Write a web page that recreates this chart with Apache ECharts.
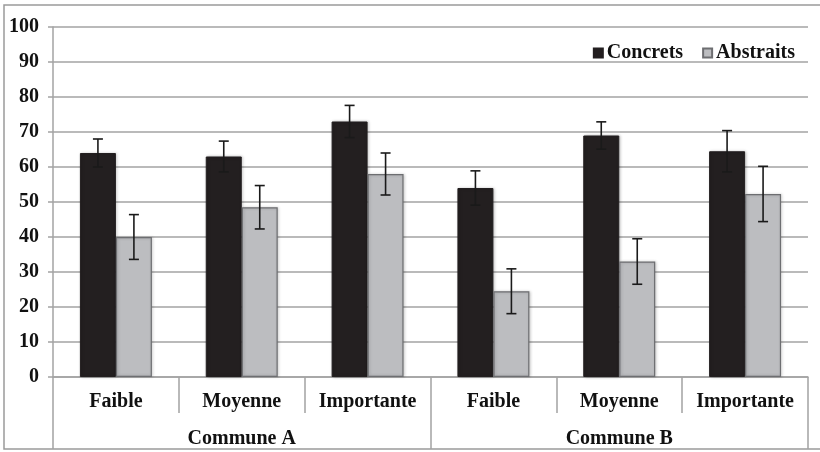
<!DOCTYPE html>
<html>
<head>
<meta charset="utf-8">
<script src="https://cdn.jsdelivr.net/npm/echarts@6/dist/echarts.min.js"></script>
<style>html,body{margin:0;padding:0;background:#fff}#c{width:820px;height:452px}</style>
</head>
<body>
<div id="c"></div>
<script>
var categories = ['Faible', 'Moyenne', 'Importante', 'Faible', 'Moyenne', 'Importante'];
var groups = ['Commune A', 'Commune B'];
var concrets = [64, 63, 73, 54, 69, 64.5];
var concretsErr = [4, 4.4, 4.6, 4.9, 3.9, 5.9];
var abstraits = [40, 48.5, 58, 24.5, 33, 52.3];
var abstraitsErr = [6.4, 6.2, 6, 6.4, 6.5, 7.9];
var yTicks = [0, 10, 20, 30, 40, 50, 60, 70, 80, 90, 100];

var FONT = '"Liberation Serif", "DejaVu Serif", serif';
var GRID = '#a3a3a3';
var BARW = 0.286;
var FS = 20;

function errSeries(vals, errs, side) {
  return {
    type: 'custom',
    xAxisIndex: 0,
    z: 10,
    data: vals.map(function (v, i) { return [i, v, errs[i]]; }),
    renderItem: function (params, api) {
      var i = api.value(0), v = api.value(1), e = api.value(2);
      var bw = api.size([1, 0])[0] * BARW;
      var c = api.coord([i, v]);
      var x = c[0] + side * bw / 2;
      var top = api.coord([i, v + e])[1];
      var bot = api.coord([i, v - e])[1];
      var cap = 5;
      var st = { stroke: '#1a1a1a', lineWidth: 1.6 };
      return {
        type: 'group',
        children: [
          { type: 'line', shape: { x1: x, y1: top, x2: x, y2: bot }, style: st },
          { type: 'line', shape: { x1: x - cap, y1: top, x2: x + cap, y2: top }, style: st },
          { type: 'line', shape: { x1: x - cap, y1: bot, x2: x + cap, y2: bot }, style: st }
        ]
      };
    }
  };
}

var chart = echarts.init(document.getElementById('c'), null, { renderer: 'canvas' });
chart.setOption({
  animation: false,
  backgroundColor: '#fff',
  textStyle: { fontFamily: FONT },
  graphic: [{
    type: 'rect', z: -10,
    shape: { x: 4, y: 5, width: 830, height: 444 },
    style: { fill: 'none', stroke: '#9a9a9a', lineWidth: 1.5 }
  }],
  legend: {
    right: 20, top: 38,
    itemWidth: 9, itemHeight: 9, itemGap: 19,
    textStyle: { fontFamily: FONT, fontWeight: 'bold', fontSize: FS, color: '#111', padding: [0, 0, 0, -1] },
    data: [
      { name: 'Concrets', icon: 'rect' },
      { name: 'Abstraits', icon: 'rect' }
    ]
  },
  grid: { left: 53, right: 12, top: 27, bottom: 75, containLabel: false },
  xAxis: [{
    type: 'category',
    data: categories,
    position: 'bottom',
    axisLine: { show: true, lineStyle: { color: GRID, width: 1.5 } },
    axisTick: { show: true, interval: 0, length: 36, lineStyle: { color: GRID, width: 1.5 } },
    axisLabel: { interval: 0, margin: 15, fontFamily: FONT, fontWeight: 'bold', fontSize: FS, color: '#111' }
  }, {
    type: 'category',
    data: groups,
    position: 'bottom',
    axisLine: { show: false },
    axisTick: { show: true, interval: 0, length: 72, lineStyle: { color: GRID, width: 1.5 } },
    axisLabel: { interval: 0, margin: 52, fontFamily: FONT, fontWeight: 'bold', fontSize: FS, color: '#111' }
  }],
  yAxis: {
    type: 'value',
    min: 0, max: 100, interval: 10,
    axisLine: { show: true, lineStyle: { color: GRID, width: 1.5 } },
    axisTick: { show: true, length: 5, lineStyle: { color: GRID, width: 1.5 } },
    splitLine: { show: true, lineStyle: { color: GRID, width: 1.5 } },
    axisLabel: {
      margin: 14, fontFamily: FONT, fontWeight: 'bold', fontSize: FS, color: '#111',
      padding: [5, 0, 0, 0],
      formatter: function (v) { return yTicks.indexOf(v) >= 0 ? String(v) : ''; }
    }
  },
  series: [{
    name: 'Concrets', type: 'bar', data: concrets,
    barWidth: (BARW * 100) + '%', barGap: '0%',
    itemStyle: { color: '#231f20', borderColor: '#231f20', borderWidth: 1, shadowColor: 'rgba(0,0,0,0.25)', shadowBlur: 3, shadowOffsetX: 1 }
  }, {
    name: 'Abstraits', type: 'bar', data: abstraits,
    barWidth: (BARW * 100) + '%', barGap: '0%',
    itemStyle: { color: '#bcbdc0', borderColor: '#6d6e71', borderWidth: 1.2, shadowColor: 'rgba(0,0,0,0.2)', shadowBlur: 3, shadowOffsetX: 1 }
  },
  errSeries(concrets, concretsErr, -1),
  errSeries(abstraits, abstraitsErr, 1)
  ]
});
</script>
</body>
</html>
